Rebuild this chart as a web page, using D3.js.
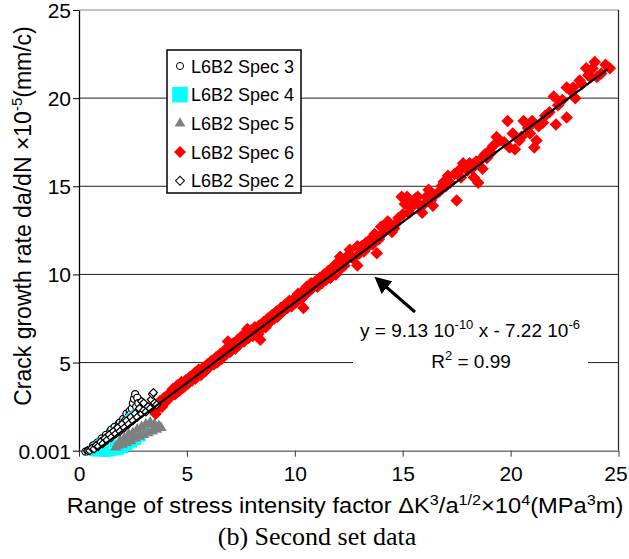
<!DOCTYPE html>
<html>
<head>
<meta charset="utf-8">
<script src="https://cdn.jsdelivr.net/npm/d3@7"></script>
<style>
  body { margin: 0; background: #fff; }
  svg { display: block; }
  text { fill: #000; }
</style>
</head>
<body>
<svg id="chart" width="629" height="559"></svg>
<script>
// axis ticks
var xTicks = [0, 5, 10, 15, 20, 25]
var yTicks = [0, 5, 10, 15, 20, 25]
var yTickLabels = ['0.001', '5', '10', '15', '20', '25']

// series: [x (x10^4), y (x10^-5 mm/c)]
var spec3 = [[0.3, -0.05], [0.4, 0.0], [0.5, 0.05], [0.6, 0.1], [0.65, 0.3], [0.7, 0.15], [0.8, 0.25],
  [0.85, 0.45], [0.9, 0.35], [1.0, 0.45], [1.05, 0.7], [1.1, 0.55], [1.2, 0.6], [1.25, 0.9], [1.3, 0.75],
  [1.4, 0.85], [1.45, 1.1], [1.5, 0.95], [1.5, 1.2], [1.6, 1.05], [1.65, 1.35], [1.7, 1.15], [1.8, 1.3],
  [1.85, 1.55], [1.9, 1.4], [1.9, 1.6], [2.0, 1.5], [2.05, 1.8], [2.1, 1.65], [2.2, 1.8], [2.2, 2.1],
  [2.3, 1.95], [2.35, 2.25], [2.4, 2.1], [2.45, 2.4], [2.5, 2.7], [2.55, 2.95], [2.6, 3.2], [2.65, 2.5],
  [2.7, 3.0], [2.75, 2.7], [2.8, 2.3], [2.9, 2.4]]
var spec4 = [[0.5, -0.05], [0.6, 0.05], [0.7, 0.15], [0.7, -0.1], [0.8, 0.25], [0.9, 0.3], [0.9, -0.1],
  [1.0, 0.45], [1.1, 0.5], [1.1, -0.12], [1.2, 0.6], [1.2, 0.3], [1.3, 0.7], [1.3, -0.12], [1.4, 0.8],
  [1.5, 0.9], [1.5, -0.1], [1.6, 1.0], [1.6, 0.4], [1.7, 1.1], [1.7, -0.05], [1.8, 1.2], [1.9, 1.3],
  [1.9, 0.0], [2.0, 1.4], [2.0, 0.6], [2.1, 1.5], [2.1, 0.1], [2.2, 1.6], [2.3, 1.8], [2.3, 0.25],
  [2.4, 1.9], [2.4, 0.9], [2.5, 2.0], [2.5, 0.4], [2.6, 2.1], [2.7, 0.55], [2.8, 1.1], [2.9, 0.75],
  [3.0, 1.1], [3.1, 1.3]]
var spec5 = [[1.7, 0.2], [1.8, 0.3], [1.9, 0.55], [2.0, 0.35], [2.1, 0.7], [2.2, 0.45], [2.3, 0.9],
  [2.4, 0.55], [2.5, 1.0], [2.6, 0.7], [2.7, 1.2], [2.8, 0.8], [2.9, 1.35], [3.0, 0.9], [3.1, 1.5],
  [3.2, 1.0], [3.3, 1.6], [3.4, 1.1], [3.5, 1.5], [3.6, 1.2], [3.7, 1.4], [3.8, 1.3]]
var spec6 = [[3.5, 2.3], [3.55, 2.1], [3.6, 2.6], [3.65, 2.4], [3.7, 2.5], [3.75, 2.8], [3.8, 2.7],
  [3.85, 2.5], [3.9, 2.9], [3.95, 3.0], [4.0, 2.9], [4.05, 2.8], [4.1, 3.1], [4.15, 3.2], [4.2, 3.0],
  [4.25, 3.1], [4.3, 3.3], [4.35, 3.5], [4.4, 3.4], [4.45, 3.2], [4.5, 3.3], [4.55, 3.7], [4.6, 3.6],
  [4.65, 3.4], [4.7, 3.6], [4.75, 3.9], [4.8, 3.8], [4.85, 3.6], [4.9, 3.7], [4.95, 4.0], [5.0, 3.9],
  [5.05, 3.8], [5.1, 4.0], [5.15, 4.2], [5.2, 4.1], [5.25, 4.0], [5.3, 4.2], [5.35, 4.4], [5.4, 4.1],
  [5.45, 4.3], [5.5, 4.4], [5.55, 4.6], [5.6, 4.5], [5.65, 4.3], [5.7, 4.4], [5.75, 4.7], [5.8, 4.6],
  [5.85, 4.5], [5.9, 4.8], [5.95, 4.9], [6.0, 4.7], [6.05, 4.8], [6.1, 4.9], [6.15, 5.1], [6.2, 5.0],
  [6.25, 4.9], [6.3, 5.1], [6.35, 5.3], [6.4, 5.0], [6.45, 5.2], [6.5, 5.3], [6.55, 5.5], [6.6, 5.2],
  [6.65, 5.3], [6.7, 5.5], [6.75, 5.7], [6.8, 5.6], [6.85, 5.5], [6.9, 6.2], [6.95, 5.9], [7.0, 5.6],
  [7.05, 5.8], [7.1, 5.8], [7.15, 6.1], [7.2, 5.9], [7.25, 5.8], [7.3, 6.1], [7.35, 6.3], [7.4, 6.0],
  [7.45, 6.1], [7.5, 6.2], [7.55, 6.5], [7.6, 6.3], [7.65, 6.2], [7.7, 6.4], [7.75, 6.6], [7.8, 6.9],
  [7.85, 6.4], [7.9, 6.5], [7.95, 6.8], [8.0, 6.6], [8.05, 6.5], [8.1, 6.7], [8.15, 7.0], [8.2, 6.8],
  [8.25, 6.7], [8.3, 6.6], [8.35, 7.1], [8.4, 6.3], [8.45, 6.9], [8.5, 7.1], [8.55, 7.3], [8.6, 7.3],
  [8.65, 7.0], [8.7, 7.2], [8.75, 7.5], [8.8, 7.4], [8.85, 7.3], [8.9, 7.5], [8.95, 7.7], [9.0, 7.6],
  [9.05, 7.5], [9.1, 7.8], [9.15, 7.9], [9.2, 7.6], [9.25, 7.7], [9.3, 7.9], [9.35, 8.1], [9.4, 8.1],
  [9.45, 7.9], [9.5, 8.0], [9.55, 8.3], [9.6, 8.2], [9.65, 8.1], [9.7, 8.2], [9.75, 8.5], [9.8, 8.4],
  [9.85, 8.2], [9.9, 8.3], [9.95, 8.6], [10.0, 8.5], [10.05, 8.4], [10.1, 8.6], [10.15, 8.9], [10.2, 8.8],
  [10.25, 8.7], [10.3, 8.6], [10.35, 9.0], [10.4, 8.1], [10.45, 8.8], [10.5, 9.2], [10.55, 9.3],
  [10.6, 9.0], [10.65, 9.1], [10.7, 9.1], [10.75, 9.5], [10.8, 9.2], [10.85, 9.3], [10.9, 9.4],
  [10.95, 9.6], [11.0, 9.5], [11.05, 9.3], [11.1, 9.4], [11.15, 9.8], [11.2, 9.6], [11.25, 9.5],
  [11.3, 9.7], [11.35, 10.0], [11.4, 9.8], [11.45, 9.7], [11.5, 10.0], [11.55, 10.2], [11.6, 9.9],
  [11.65, 9.8], [11.7, 10.1], [11.75, 10.4], [11.8, 10.3], [11.85, 10.1], [11.9, 10.0], [12.0, 10.7],
  [12.1, 10.3], [12.1, 11.0], [12.2, 10.6], [12.3, 10.5], [12.3, 10.8], [12.4, 11.0], [12.55, 11.4],
  [12.6, 11.0], [12.7, 10.9], [12.9, 11.6], [12.9, 10.5], [13.0, 11.2], [13.1, 11.6], [13.2, 11.3],
  [13.3, 11.8], [13.4, 11.6], [13.5, 12.0], [13.6, 11.7], [13.7, 12.3], [13.8, 11.2], [13.9, 12.0],
  [14.0, 12.7], [14.1, 12.35], [14.2, 12.7], [14.3, 13.0], [14.4, 12.9], [14.5, 12.4], [14.6, 12.6],
  [14.7, 12.9], [14.8, 13.2], [14.95, 14.4], [15.0, 13.4], [15.1, 14.0], [15.2, 14.4], [15.3, 13.5],
  [15.4, 13.8], [15.5, 14.2], [15.6, 14.3], [15.7, 14.4], [15.8, 13.9], [15.9, 13.5], [16.0, 14.0],
  [16.1, 14.4], [16.2, 14.8], [16.3, 14.2], [16.4, 13.9], [16.5, 14.5], [16.7, 14.7], [16.8, 15.0],
  [16.9, 15.25], [17.0, 15.0], [17.1, 15.6], [17.2, 15.2], [17.4, 15.7], [17.5, 14.2], [17.6, 15.9],
  [17.7, 15.5], [17.8, 16.3], [18.0, 15.9], [18.1, 16.3], [18.2, 16.0], [18.3, 15.5], [18.4, 16.4],
  [18.5, 15.2], [18.6, 16.5], [18.7, 16.0], [18.8, 16.8], [18.9, 16.6], [19.0, 17.0], [19.1, 16.9],
  [19.2, 17.3], [19.35, 17.8], [19.5, 17.6], [19.7, 17.5], [19.86, 18.7], [19.95, 17.2], [20.1, 18.0],
  [20.2, 17.1], [20.4, 17.6], [20.5, 17.8], [20.6, 18.7], [20.8, 18.3], [20.9, 18.0], [21.0, 18.7],
  [21.1, 17.2], [21.2, 17.6], [21.3, 18.4], [21.5, 18.6], [21.6, 19.0], [21.8, 19.2], [22.0, 20.1],
  [22.1, 18.5], [22.2, 19.6], [22.3, 19.8], [22.4, 19.9], [22.6, 18.9], [22.6, 20.6], [22.8, 20.4],
  [22.9, 20.6], [23.0, 20.0], [23.2, 21.0], [23.3, 20.8], [23.5, 21.7], [23.6, 21.3], [23.7, 21.2],
  [23.8, 21.7], [23.9, 22.05], [24.0, 21.2], [24.2, 21.4], [24.4, 21.9], [24.6, 21.7]]
var spec2 = [[0.4, 0.0], [0.5, 0.0], [0.6, 0.15], [0.7, 0.1], [0.8, 0.3], [0.9, 0.25], [1.0, 0.5],
  [1.1, 0.4], [1.2, 0.7], [1.3, 0.6], [1.4, 0.9], [1.5, 0.75], [1.6, 1.1], [1.7, 0.95], [1.8, 1.3],
  [1.9, 1.1], [2.0, 1.5], [2.1, 1.3], [2.2, 1.7], [2.3, 1.5], [2.4, 1.9], [2.5, 1.7], [2.6, 2.1],
  [2.7, 1.9], [2.8, 2.4], [2.9, 2.1], [2.9, 2.8], [3.0, 2.3], [3.0, 2.7], [3.1, 2.2], [3.2, 2.5],
  [3.3, 2.4], [3.35, 2.9], [3.4, 3.2], [3.45, 3.3], [3.5, 2.7], [3.6, 2.6]]

var legendNames = ['L6B2 Spec 3', 'L6B2 Spec 4', 'L6B2 Spec 5', 'L6B2 Spec 6', 'L6B2 Spec 2']

// fitted line y = 9.13e-10 x - 7.22e-6, in the chart units
var fitSlope = 0.913
var fitIntercept = -0.722
var fitRange = [0.79, 24.5]

var sans = '"Liberation Sans", Arial, sans-serif'
var svg = d3.select('#chart')
var x = d3.scaleLinear().domain([0, 25]).range([79, 618.5])
var y = d3.scaleLinear().domain([0, 25]).range([450.7, 10])

// frame and grid
svg.append('line').attr('x1', x(0)).attr('x2', x(25)).attr('y1', y(25)).attr('y2', y(25))
  .attr('stroke', '#888').attr('stroke-width', 1.2)
svg.selectAll('.grid').data(yTicks.slice(1, 5)).enter().append('line')
  .attr('class', 'grid')
  .attr('x1', x(0)).attr('x2', x(25))
  .attr('y1', function (d) { return y(d) }).attr('y2', function (d) { return y(d) })
  .attr('stroke', '#222').attr('stroke-width', 1)
svg.append('line').attr('x1', x(25)).attr('x2', x(25)).attr('y1', y(25)).attr('y2', y(0))
  .attr('stroke', '#222').attr('stroke-width', 1.2)

// y axis
var yAxis = d3.axisLeft(y).tickValues(yTicks).tickSize(6).tickSizeOuter(0)
  .tickFormat(function (d, i) { return yTickLabels[i] })
var gy = svg.append('g').attr('transform', 'translate(' + x(0) + ',0)').call(yAxis)
gy.select('.domain').attr('stroke', '#000').attr('stroke-width', 1.3)
gy.selectAll('.tick line').attr('stroke', '#000')
gy.selectAll('.tick text').attr('font-size', 21).attr('font-family', sans)
  .attr('x', -8).attr('dy', '0.36em')

// x axis
var xAxis = d3.axisBottom(x).tickValues(xTicks).tickSize(6).tickSizeOuter(0)
var gx = svg.append('g').attr('transform', 'translate(0,' + y(0) + ')').call(xAxis)
gx.select('.domain').attr('stroke', '#777').attr('stroke-width', 1.4)
gx.selectAll('.tick line').attr('stroke', '#333')
gx.selectAll('.tick text').attr('font-size', 21).attr('font-family', sans)
  .attr('y', 30).attr('dy', 0)
  .attr('dx', function (d) { return d === 25 ? -3 : 0 })

// markers
function drawSeries (data, symbolType, size, fill, stroke, rotate) {
  var sym = d3.symbol().type(symbolType).size(size)
  svg.append('g').selectAll('path').data(data).enter().append('path')
    .attr('d', sym)
    .attr('transform', function (d) {
      return 'translate(' + x(d[0]) + ',' + y(d[1]) + ')' + (rotate ? ' rotate(45)' : '')
    })
    .attr('fill', fill)
    .attr('stroke', stroke)
    .attr('stroke-width', stroke === 'none' ? 0 : 1.2)
}
drawSeries(spec3, d3.symbolCircle, 40, '#fff', '#000', false)
drawSeries(spec4, d3.symbolSquare, 64, '#00ffff', 'none', false)
drawSeries(spec5, d3.symbolTriangle, 55, '#808080', 'none', false)
drawSeries(spec6, d3.symbolSquare, 78, '#ff0000', 'none', true)
drawSeries(spec2, d3.symbolSquare, 32, '#fff', '#000', true)

// fit line
svg.append('line')
  .attr('x1', x(fitRange[0])).attr('y1', y(fitSlope * fitRange[0] + fitIntercept))
  .attr('x2', x(fitRange[1])).attr('y2', y(fitSlope * fitRange[1] + fitIntercept))
  .attr('stroke', '#000').attr('stroke-width', 2.2)

// equation box
svg.append('rect').attr('x', 353).attr('y', 316).attr('width', 235).attr('height', 60).attr('fill', '#fff')
var eq = svg.append('text').attr('x', 470).attr('y', 337).attr('text-anchor', 'middle')
  .attr('font-size', 19).style('font-family', sans)
eq.append('tspan').text('y = 9.13 10')
eq.append('tspan').attr('dy', -8).attr('font-size', 13).text('-10')
eq.append('tspan').attr('dy', 8).text(' x - 7.22 10')
eq.append('tspan').attr('dy', -8).attr('font-size', 13).text('-6')
var r2 = svg.append('text').attr('x', 471).attr('y', 368).attr('text-anchor', 'middle')
  .attr('font-size', 19).style('font-family', sans)
r2.append('tspan').text('R')
r2.append('tspan').attr('dy', -8).attr('font-size', 13).text('2')
r2.append('tspan').attr('dy', 8).text(' = 0.99')

// arrow
svg.append('defs').append('marker').attr('id', 'head')
  .attr('viewBox', '0 0 10 10').attr('refX', 8).attr('refY', 5)
  .attr('markerWidth', 5.5).attr('markerHeight', 5.5).attr('orient', 'auto')
  .append('path').attr('d', 'M0,0L10,5L0,10z').attr('fill', '#000')
svg.append('line').attr('x1', 415).attr('y1', 312).attr('x2', 377).attr('y2', 279)
  .attr('stroke', '#000').attr('stroke-width', 3).attr('marker-end', 'url(#head)')

// legend
var legend = svg.append('g').attr('transform', 'translate(167,50)')
legend.append('rect').attr('width', 134).attr('height', 143)
  .attr('fill', '#fff').attr('stroke', '#000').attr('stroke-width', 1.5)
var legendSyms = [
  { type: d3.symbolCircle, size: 40, fill: '#fff', stroke: '#000', rot: false },
  { type: d3.symbolSquare, size: 240, fill: '#00ffff', stroke: 'none', rot: false },
  { type: d3.symbolTriangle, size: 50, fill: '#808080', stroke: 'none', rot: false },
  { type: d3.symbolSquare, size: 72, fill: '#ff0000', stroke: 'none', rot: true },
  { type: d3.symbolSquare, size: 40, fill: '#fff', stroke: '#000', rot: true }
]
var item = legend.selectAll('.item').data(legendNames).enter().append('g')
  .attr('transform', function (d, i) { return 'translate(0,' + (16 + i * 28.7) + ')' })
item.append('path')
  .attr('d', function (d, i) { return d3.symbol().type(legendSyms[i].type).size(legendSyms[i].size)() })
  .attr('transform', function (d, i) { return 'translate(13,0)' + (legendSyms[i].rot ? ' rotate(45)' : '') })
  .attr('fill', function (d, i) { return legendSyms[i].fill })
  .attr('stroke', function (d, i) { return legendSyms[i].stroke })
  .attr('stroke-width', 1)
item.append('text').attr('x', 24).attr('y', 6.5).attr('font-size', 18).style('font-family', sans)
  .text(function (d) { return d })

// axis titles
var yt = svg.append('text').attr('transform', 'translate(31,216) rotate(-90)')
  .attr('text-anchor', 'middle').attr('font-size', 23).style('font-family', sans)
yt.append('tspan').text('Crack growth rate da/dN \u00d710')
yt.append('tspan').attr('dy', -9).attr('font-size', 15).text('-5')
yt.append('tspan').attr('dy', 9).text('(mm/c)')

var xt = svg.append('text').attr('x', 0).attr('y', 0).attr('text-anchor', 'middle')
  .attr('font-size', 22).style('font-family', sans)
xt.append('tspan').text('Range of stress intensity factor \u0394K')
xt.append('tspan').attr('dy', -8).attr('font-size', 15).text('3')
xt.append('tspan').attr('dy', 8).text('/a')
xt.append('tspan').attr('dy', -8).attr('font-size', 15).text('1/2')
xt.append('tspan').attr('dy', 8).text('\u00d710')
xt.append('tspan').attr('dy', -8).attr('font-size', 15).text('4')
xt.append('tspan').attr('dy', 8).text('(MPa')
xt.append('tspan').attr('dy', -8).attr('font-size', 15).text('3')
xt.append('tspan').attr('dy', 8).text('m)')
// stretch the title to the width it has in the figure
var xtWidth = xt.node().getBBox().width
xt.attr('transform', 'translate(345,513) scale(' + (557 / xtWidth) + ',1)')

svg.append('text').attr('x', 317).attr('y', 545).attr('text-anchor', 'middle')
  .style('font-family', '"Liberation Serif", "Times New Roman", serif').attr('font-size', 26)
  .text('(b) Second set data')
</script>
</body>
</html>
